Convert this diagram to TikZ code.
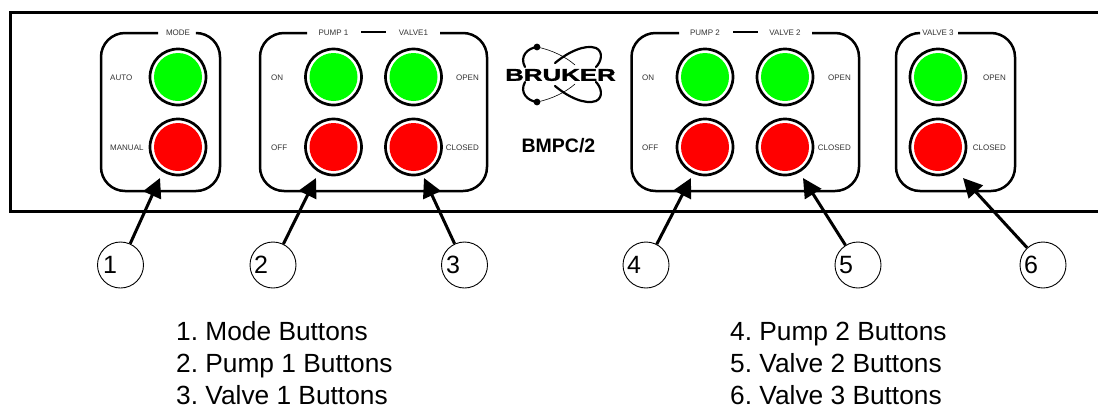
\documentclass[tikz,border=0pt]{standalone}
\usepackage{fontspec}
\setmainfont{Liberation Sans}
\newfontfamily\logofont[FakeBold=1.5]{Liberation Sans Bold}
\usetikzlibrary{arrows.meta}
\frenchspacing
\tikzset{
  panel/.style={line width=2.5pt,rounded corners=24pt,line cap=butt},
  frameline/.style={line width=3pt},
  ring/.style={circle,draw=black,line width=2.7pt,fill=white,minimum size=56pt,inner sep=0pt},
  lamp/.style={circle,minimum size=48pt,inner sep=0pt},
  tiny/.style={font=\fontsize{8}{9}\selectfont,text=black!80,inner sep=0pt},
  callout/.style={circle,draw=black,line width=0.9pt,fill=white,minimum size=46pt,inner sep=0pt},
  callnum/.style={font=\fontsize{25}{27}\selectfont,inner sep=0pt},
  legend/.style={font=\fontsize{26.3}{32}\selectfont,anchor=west,align=left,inner sep=0pt},
  pointer/.style={line width=3pt,-{Triangle[length=19pt,width=19pt]}},
  orbit/.style={line width=2.2pt,line cap=round},
  thinorbit/.style={line width=0.6pt}
}
\definecolor{lampgreen}{RGB}{0,255,0}
\definecolor{lampred}{RGB}{255,0,0}
\newcommand{\lampbtn}[4]{%
  \node[ring] (#1r) at (#2,#3) {};
  \node[lamp,fill=#4] (#1) at (#2,#3) {};
}
\newcommand{\callpt}[4]{%
  \node[callout] (c#1) at (#2,265) {};
  \node[callnum] (n#1) at (#3,265) {#1};
  \coordinate (t#1) at (#4,178);
}
\begin{document}
\begin{tikzpicture}[x=1pt,y=-1pt]
\useasboundingbox (0,0) rectangle (1098,408);
\fill[white] (0,0) rectangle (1098,408);
% front panel
\draw[frameline] (1098,12) -- (10,12) -- (10,211) -- (1098,211);
% group outlines
\draw[panel] (158,33) -- (101,33) -- (101,191) -- (220,191) -- (220,33) -- (198,33);
\draw[panel] (307,33) -- (260,33) -- (260,191) -- (487,191) -- (487,33) -- (440,33);
\draw[line width=2.5pt] (361,32) -- (386,32);
\draw[panel] (679,33) -- (631.5,33) -- (631.5,191) -- (859,191) -- (859,33) -- (812,33);
\draw[line width=2.5pt] (733,32) -- (758,32);
\draw[panel] (918,33) -- (896,33) -- (896,191) -- (1015,191) -- (1015,33) -- (958,33);
% buttons
\lampbtn{ma}{178}{77}{lampgreen}
\lampbtn{mb}{178}{147}{lampred}
\lampbtn{pa}{333.5}{77}{lampgreen}
\lampbtn{pb}{333.5}{147}{lampred}
\lampbtn{va}{413.5}{77}{lampgreen}
\lampbtn{vb}{413.5}{147}{lampred}
\lampbtn{qa}{705}{77}{lampgreen}
\lampbtn{qb}{705}{147}{lampred}
\lampbtn{wa}{785}{77}{lampgreen}
\lampbtn{wb}{785}{147}{lampred}
\lampbtn{xa}{938}{77}{lampgreen}
\lampbtn{xb}{938}{147}{lampred}
% titles
\node[tiny] (tm) at (178,33) {MODE};
\node[tiny] (tp) at (333.5,33) {PUMP 1};
\node[tiny] (tv) at (413.5,33) {VALVE1};
\node[tiny] (tq) at (705,33) {PUMP 2};
\node[tiny] (tw) at (785,33) {VALVE 2};
\node[tiny] (tx) at (938,33) {VALVE 3};
% side labels
\node[tiny,anchor=west] (l1) at (110,78) {AUTO};
\node[tiny,anchor=west] (l2) at (110,148) {MANUAL};
\node[tiny,anchor=west] (l3) at (271,78) {ON};
\node[tiny,anchor=west] (l4) at (271,148) {OFF};
\node[tiny,anchor=east] (l5) at (479,78) {OPEN};
\node[tiny,anchor=east] (l6) at (479,148) {CLOSED};
\node[tiny,anchor=west] (l7) at (642,78) {ON};
\node[tiny,anchor=west] (l8) at (642,148) {OFF};
\node[tiny,anchor=east] (l9) at (851,78) {OPEN};
\node[tiny,anchor=east] (l10) at (851,148) {CLOSED};
\node[tiny,anchor=east] (l11) at (1006,78) {OPEN};
\node[tiny,anchor=east] (l12) at (1006,148) {CLOSED};
% logo
\draw[orbit] (555,63) .. controls (568,52) and (585,44) .. (596,48) .. controls (604,52) and (601,62) .. (596,67);
\draw[orbit] (555,86) .. controls (568,97) and (585,105) .. (596,101) .. controls (604,97) and (601,87) .. (596,82);
\draw[orbit] (537,47) .. controls (528,48) and (519,56) .. (525,67);
\draw[orbit] (537,102) .. controls (528,101) and (519,93) .. (525,82);
\draw[thinorbit] (537,47) .. controls (552,50) and (566,57) .. (575,65);
\draw[thinorbit] (537,102) .. controls (552,99) and (566,92) .. (575,84);
\fill (537,47) circle (3.4pt);
\fill (537,102) circle (3.4pt);
\node[inner sep=0pt,xscale=1.52,font=\fontsize{17}{17}\selectfont\logofont] (logo) at (560.5,75) {BRUKER};
\node[inner sep=0pt,font=\fontsize{19.5}{21}\selectfont\bfseries] (model) at (558.5,146) {BMPC/2};
% callouts
\callpt{1}{120.5}{110}{160}
\callpt{2}{273}{261}{316}
\callpt{3}{464.5}{453}{424}
\callpt{4}{646}{634}{691}
\callpt{5}{858}{846}{803}
\callpt{6}{1043}{1031}{963}
\draw[pointer] (c1) -- (t1);
\draw[pointer] (c2) -- (t2);
\draw[pointer] (c3) -- (t3);
\draw[pointer] (c4) -- (t4);
\draw[pointer] (c5) -- (t5);
\draw[pointer] (c6) -- (t6);
% legends
\node[legend] (leg1) at (176,363) {1. Mode Buttons\\2. Pump 1 Buttons\\3. Valve 1 Buttons};
\node[legend] (leg2) at (730,363) {4. Pump 2 Buttons\\5. Valve 2 Buttons\\6. Valve 3 Buttons};
\end{tikzpicture}
\end{document}
